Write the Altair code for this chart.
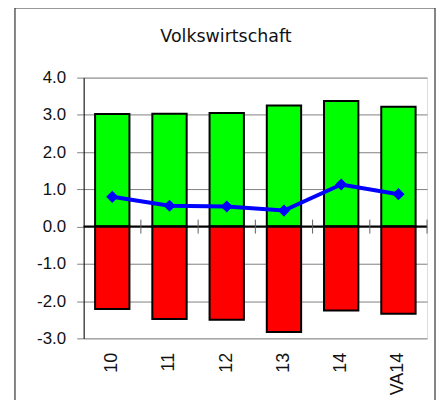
import altair as alt
import pandas as pd

categories = ["10", "11", "12", "13", "14", "VA14"]
positive = [3.02, 3.03, 3.05, 3.25, 3.37, 3.22]
negative = [-2.21, -2.48, -2.50, -2.83, -2.25, -2.34]
balance = [0.80, 0.56, 0.54, 0.43, 1.13, 0.87]
y_ticks = [-3, -2, -1, 0, 1, 2, 3, 4]
title_text = "Volkswirtschaft"

df = pd.DataFrame({"cat": categories, "pos": positive, "neg": negative, "bal": balance})

FONT = "DejaVu Sans"
LFONT = "Liberation Sans"
W, H = 345, 262

xs = alt.Scale(domain=categories, paddingInner=0, paddingOuter=0)
ys = alt.Scale(domain=[-3, 4], nice=False, zero=False)

x_axis = alt.Axis(title=None, orient="bottom", domain=False, ticks=False,
                  labelAngle=270, labelPadding=14, labelFont=LFONT,
                  labelFontSize=18, labelColor="#111111", grid=False,
                  labelOverlap=False)

y_axis = alt.Axis(title=None, values=y_ticks, tickCount=8, grid=True,
                  labelExpr="replace(format(datum.value, '.1f'), '\u2212', '-')",
                  gridColor="#808080", gridWidth=1, gridOpacity=1,
                  tickColor="#808080", tickSize=7, tickWidth=1,
                  domain=True, domainColor="#000000", domainWidth=1,
                  labelFont=LFONT, labelFontSize=17, labelColor="#111111",
                  labelPadding=11, labelOverlap=False, labelBound=False,
                  labelFlush=False)


def X(**kw):
    return alt.X("cat:N", scale=xs, sort=categories, axis=x_axis, **kw)


def Y(field=None, **kw):
    if field is None:
        return alt.Y(scale=ys, axis=y_axis, **kw)
    return alt.Y(field, scale=ys, axis=y_axis, **kw)


base = alt.Chart(df)
one = base.transform_filter(alt.datum.cat == "10")

border = one.mark_rect(fill=None, stroke="#333333", strokeWidth=1.2).encode(
    x=alt.value(-69), x2=alt.value(353), y=alt.value(-70), y2=alt.value(400)
)

title = one.mark_text(font=FONT, fontSize=17.5, color="#111111", align="center",
                      baseline="alphabetic").encode(
    x=alt.value(143), y=alt.value(-36), text=alt.value(title_text)
)

pos_bars = base.mark_bar(color="#00FF00", stroke="#000000", strokeWidth=2,
                         width=alt.RelativeBandSize(0.6)).encode(
    x=X(), y=Y("pos:Q"), y2=alt.Y2(datum=0),
)

neg_bars = base.mark_bar(color="#FF0000", stroke="#000000", strokeWidth=2,
                         width=alt.RelativeBandSize(0.6)).encode(
    x=X(), y=Y("neg:Q"), y2=alt.Y2(datum=0),
)

zero_line = one.mark_rule(color="#000000", strokeWidth=2).encode(
    y=Y(datum=0)
)

zero_ticks = base.mark_rule(color="#606060", strokeWidth=1, yOffset=-7, y2Offset=7).encode(
    x=X(bandPosition=1), y=Y(datum=0), y2=alt.Y2(datum=0),
)

line = base.mark_line(color="#0000FF", strokeWidth=4).encode(
    x=X(), y=Y("bal:Q"),
)
points = base.mark_point(shape="diamond", filled=True, color="#0000FF", size=150, opacity=1).encode(
    x=X(), y=Y("bal:Q"),
)

chart = alt.layer(border, title, pos_bars, neg_bars, zero_line, zero_ticks, line, points).properties(
    width=W, height=H,
    autosize=alt.AutoSizeParams(type="none"),
    padding={"left": 76, "top": 69, "right": 10, "bottom": 61},
).configure_view(strokeWidth=0).configure(background="#FFFFFF")

chart.save("out.html", embed_options={"renderer": "svg", "actions": False})
